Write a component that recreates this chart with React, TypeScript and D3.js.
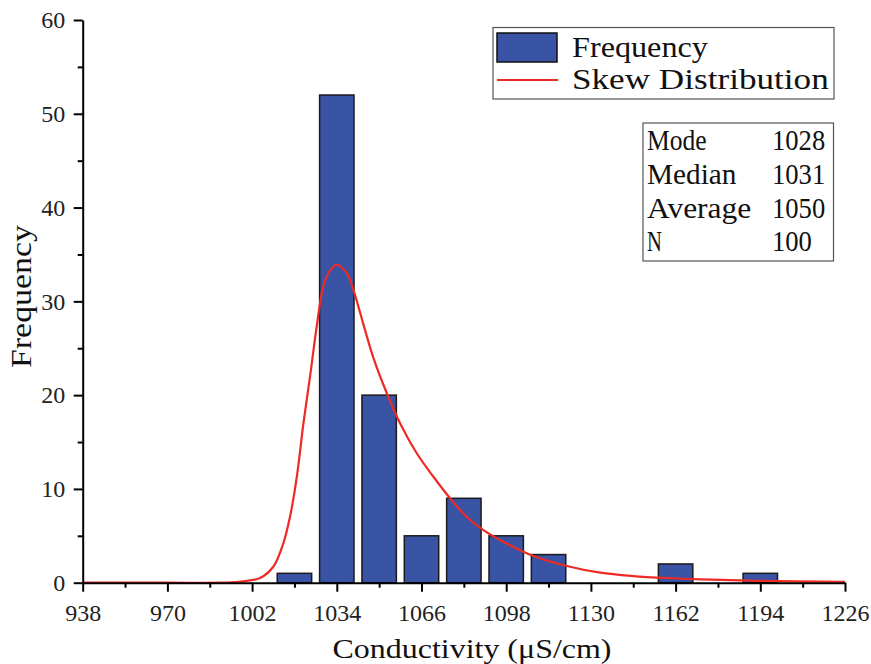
import React, {useEffect, useRef} from 'react';
import * as d3 from 'd3';

// histogram bins (bin centre, count)
const binCenters = [1018, 1034, 1050, 1066, 1082, 1098, 1114, 1162, 1194];
const binCounts = [1, 52, 20, 5, 9, 5, 3, 2, 1];

// fitted skew curve
const curveX = [938, 970, 990, 997, 1005, 1010, 1013.8, 1016.3, 1018.9, 1021.4, 1023.9, 1026.4, 1028.9, 1031.5,
    1034, 1037.8, 1040.3, 1044, 1047.8, 1052.9, 1057.9, 1064.2, 1070.5, 1076.8, 1083.1, 1089.4, 1095.7,
    1108.3, 1120.9, 1133.5, 1146, 1158.7, 1171.7, 1194, 1226];
const curveY = [0, 0, 0, 0.1, 0.5, 1.7, 4.2, 7.0, 11.3, 17.0, 22.0, 27.3, 31.6, 33.3,
    33.9, 33.0, 31.2, 27.6, 24.0, 20.2, 17.0, 13.8, 11.3, 9.0, 7.0, 5.6, 4.55,
    2.85, 1.78, 1.07, 0.71, 0.5, 0.36, 0.2, 0.1];

const xTicks = [938, 970, 1002, 1034, 1066, 1098, 1130, 1162, 1194, 1226];
const yTicks = [0, 10, 20, 30, 40, 50, 60];

const statLabels = ['Mode', 'Median', 'Average', 'N'];
const statValues = ['1028', '1031', '1050', '100'];

const legendLabels = ['Frequency', 'Skew Distribution'];

const W = 871;
const H = 664;
const BAR_COLOR = '#3953a5';
const LINE_COLOR = '#ee2a24';
const SERIF = '"Liberation Serif", "Times New Roman", serif';

export default function App() {
    const ref = useRef<SVGSVGElement>(null);

    useEffect(() => {
        document.body.style.margin = '0';
        const svg = d3.select(ref.current);
        svg.selectAll('*').remove();

        const left = 82.7, right = 845, top = 20, bottom = 582.7;

        // scales
        const xScale = d3.scaleLinear().domain([938, 1226]).range([left, right]);
        const yScale = d3.scaleLinear().domain([0, 60]).range([bottom, top]);

        // bars
        svg.append('g').selectAll('rect')
            .data(binCenters)
            .enter()
            .append('rect')
            .attr('x', (d) => xScale(d - 6.5))
            .attr('width', (d) => xScale(d + 6.5) - xScale(d - 6.5))
            .attr('y', (d, i) => yScale(binCounts[i]))
            .attr('height', (d, i) => yScale(0) - yScale(binCounts[i]))
            .attr('fill', BAR_COLOR)
            .attr('stroke', '#1b1b1b')
            .attr('stroke-width', 1.5);

        // skew curve
        const line = d3.line<number>()
            .x((d) => xScale(d))
            .y((d, i) => yScale(curveY[i]))
            .curve(d3.curveCatmullRom.alpha(0.5));

        svg.append('path')
            .datum(curveX)
            .attr('d', line)
            .attr('fill', 'none')
            .attr('stroke', LINE_COLOR)
            .attr('stroke-width', 2.2);

        // x axis: minor then major
        svg.append('g')
            .attr('transform', `translate(0,${bottom})`)
            .call(d3.axisBottom(xScale).tickValues(d3.range(954, 1226, 32)).tickSize(5).tickSizeOuter(0).tickFormat(() => ''))
            .call((g) => g.select('.domain').remove())
            .selectAll('line').attr('stroke-width', 2);

        const xAxis = svg.append('g')
            .attr('transform', `translate(0,${bottom})`)
            .call(d3.axisBottom(xScale).tickValues(xTicks).tickSize(9).tickSizeOuter(0).tickPadding(12.3).tickFormat(d3.format('d')));
        xAxis.select('.domain').attr('stroke-width', 2);
        xAxis.selectAll('line').attr('stroke-width', 2);
        xAxis.selectAll('text').attr('font-family', SERIF).attr('font-size', 24).attr('fill', '#222');

        // y axis
        svg.append('g')
            .attr('transform', `translate(${left},0)`)
            .call(d3.axisLeft(yScale).tickValues(d3.range(5, 60, 10)).tickSize(5).tickSizeOuter(0).tickFormat(() => ''))
            .call((g) => g.select('.domain').remove())
            .selectAll('line').attr('stroke-width', 2);

        const yAxis = svg.append('g')
            .attr('transform', `translate(${left},0)`)
            .call(d3.axisLeft(yScale).tickValues(yTicks).tickSize(9).tickSizeOuter(0).tickPadding(8.5));
        yAxis.select('.domain').attr('stroke-width', 2);
        yAxis.selectAll('line').attr('stroke-width', 2);
        yAxis.selectAll('text').attr('font-family', SERIF).attr('font-size', 24).attr('fill', '#222');

        // axis titles
        svg.append('text')
            .attr('x', 472)
            .attr('y', 658)
            .attr('text-anchor', 'middle')
            .attr('font-family', SERIF)
            .attr('font-size', 28)
            .attr('fill', '#111')
            .attr('textLength', 279)
            .attr('lengthAdjust', 'spacingAndGlyphs')
            .text('Conductivity (μS/cm)');

        svg.append('text')
            .attr('transform', 'translate(31,296.5) rotate(-90)')
            .attr('text-anchor', 'middle')
            .attr('font-family', SERIF)
            .attr('font-size', 29)
            .attr('fill', '#111')
            .attr('textLength', 143)
            .attr('lengthAdjust', 'spacingAndGlyphs')
            .text('Frequency');

        // legend
        const legend = svg.append('g');
        legend.append('rect')
            .attr('x', 493).attr('y', 27.5).attr('width', 341).attr('height', 71.5)
            .attr('fill', 'white').attr('stroke', '#555').attr('stroke-width', 1.2);
        legend.append('rect')
            .attr('x', 497).attr('y', 33).attr('width', 60).attr('height', 29)
            .attr('fill', BAR_COLOR).attr('stroke', '#111').attr('stroke-width', 1.5);
        legend.append('line')
            .attr('x1', 497).attr('x2', 558).attr('y1', 80).attr('y2', 80)
            .attr('stroke', LINE_COLOR).attr('stroke-width', 2.2);
        legend.selectAll('text.lab')
            .data(legendLabels)
            .enter()
            .append('text')
            .attr('class', 'lab')
            .attr('x', 572)
            .attr('y', (d, i) => 57 + i * 32)
            .attr('font-family', SERIF)
            .attr('font-size', 30)
            .attr('fill', '#111')
            .attr('textLength', (d) => d.length * 15.1)
            .attr('lengthAdjust', 'spacingAndGlyphs')
            .text((d) => d);

        // stats table
        const stats = svg.append('g');
        stats.append('rect')
            .attr('x', 643).attr('y', 123).attr('width', 190.5).attr('height', 138)
            .attr('fill', 'white').attr('stroke', '#555').attr('stroke-width', 1.2);
        stats.selectAll('text.sl')
            .data(statLabels)
            .enter()
            .append('text')
            .attr('class', 'sl')
            .attr('x', 647)
            .attr('y', (d, i) => 150 + i * 33.8)
            .attr('font-family', SERIF)
            .attr('font-size', 29)
            .attr('fill', '#111')
            .attr('textLength', (d) => d.length * 14.9)
            .attr('lengthAdjust', 'spacingAndGlyphs')
            .text((d) => d);
        stats.selectAll('text.sv')
            .data(statValues)
            .enter()
            .append('text')
            .attr('class', 'sv')
            .attr('x', 772)
            .attr('y', (d, i) => 150 + i * 33.8)
            .attr('font-family', SERIF)
            .attr('font-size', 29)
            .attr('fill', '#111')
            .attr('textLength', (d) => d.length * 13.3)
            .attr('lengthAdjust', 'spacingAndGlyphs')
            .text((d) => d);
    }, []);

    return (
        <svg ref={ref} width={W} height={H} style={{display: 'block', background: 'white'}}></svg>
    );
}
